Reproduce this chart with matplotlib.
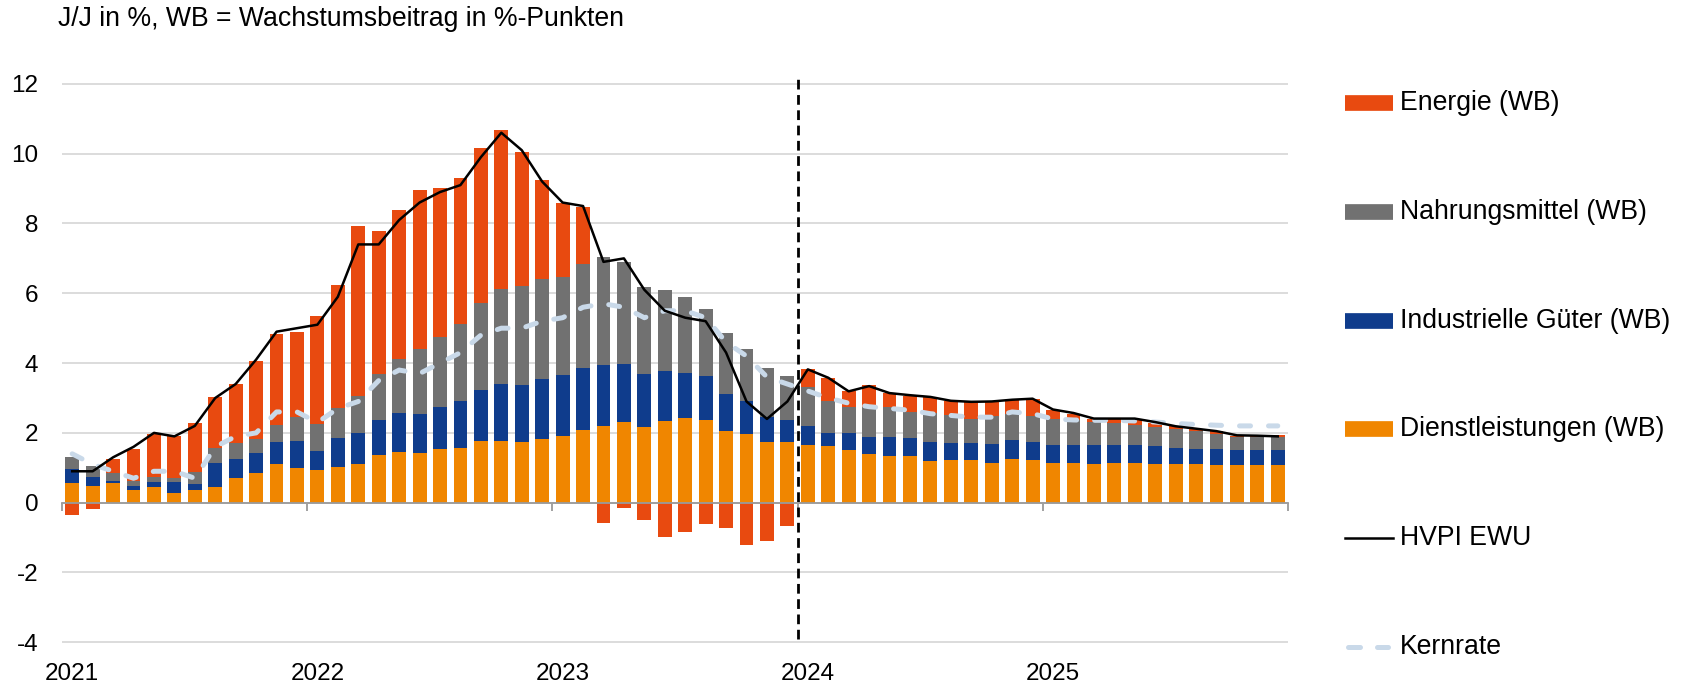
import numpy as np
import matplotlib
matplotlib.use("Agg")
import matplotlib.pyplot as plt
from matplotlib.lines import Line2D

plt.rcParams['font.family'] = ['Liberation Sans', 'DejaVu Sans']
plt.rcParams['axes.unicode_minus'] = False

years = ['2021', '2022', '2023', '2024', '2025']

# Wachstumsbeiträge in %-Punkten, monatlich Jan 2021 - Dez 2025
dienstleistungen = [
    0.57, 0.48, 0.55, 0.35, 0.45, 0.29, 0.37, 0.45, 0.71, 0.86, 1.12, 1.00,
    0.95, 1.03, 1.12, 1.36, 1.46, 1.41, 1.54, 1.57, 1.78, 1.78, 1.75, 1.82,
    1.90, 2.08, 2.21, 2.30, 2.17, 2.34, 2.44, 2.38, 2.05, 1.98, 1.73, 1.73,
    1.66, 1.61, 1.51, 1.40, 1.34, 1.34, 1.20, 1.21, 1.21, 1.15, 1.25, 1.23,
    1.15, 1.13, 1.12, 1.15, 1.13, 1.12, 1.10, 1.10, 1.09, 1.08, 1.08, 1.08,
]
industriegueter = [
    0.39, 0.26, 0.06, 0.13, 0.15, 0.30, 0.16, 0.69, 0.55, 0.55, 0.63, 0.77,
    0.54, 0.81, 0.89, 1.00, 1.11, 1.12, 1.19, 1.35, 1.45, 1.62, 1.61, 1.71,
    1.75, 1.77, 1.73, 1.66, 1.53, 1.43, 1.29, 1.24, 1.05, 0.92, 0.73, 0.65,
    0.53, 0.40, 0.48, 0.48, 0.54, 0.50, 0.55, 0.50, 0.50, 0.52, 0.55, 0.52,
    0.51, 0.53, 0.52, 0.49, 0.51, 0.49, 0.47, 0.43, 0.44, 0.44, 0.44, 0.44,
]
nahrungsmittel = [
    0.35, 0.31, 0.24, 0.13, 0.14, 0.12, 0.35, 0.44, 0.44, 0.41, 0.48, 0.69,
    0.76, 0.88, 1.04, 1.33, 1.55, 1.87, 2.03, 2.21, 2.48, 2.72, 2.84, 2.87,
    2.81, 2.99, 3.09, 2.93, 2.49, 2.33, 2.16, 1.92, 1.77, 1.49, 1.41, 1.24,
    1.13, 0.90, 0.75, 0.86, 0.86, 0.75, 0.82, 0.79, 0.69, 0.82, 0.75, 0.74,
    0.75, 0.72, 0.66, 0.65, 0.58, 0.56, 0.53, 0.52, 0.45, 0.37, 0.35, 0.35,
]
energie = [
    -0.34, -0.19, 0.39, 0.94, 1.24, 1.20, 1.41, 1.44, 1.70, 2.24, 2.61, 2.43,
    3.11, 3.52, 4.88, 4.09, 4.28, 4.57, 4.27, 4.16, 4.44, 4.55, 3.85, 2.84,
    2.12, 1.64, -0.59, -0.14, -0.50, -0.97, -0.83, -0.61, -0.73, -1.21, -1.09, -0.67,
    0.50, 0.67, 0.45, 0.62, 0.39, 0.48, 0.46, 0.42, 0.48, 0.41, 0.40, 0.48,
    0.24, 0.15, 0.09, 0.11, 0.14, 0.10, 0.10, 0.07, 0.07, 0.03, 0.05, 0.08,
]
hvpi = [
    0.9, 0.9, 1.3, 1.6, 2.0, 1.9, 2.2, 3.0, 3.4, 4.1, 4.9, 5.0,
    5.1, 5.9, 7.4, 7.4, 8.1, 8.6, 8.9, 9.1, 9.9, 10.6, 10.1, 9.2,
    8.6, 8.5, 6.9, 7.0, 6.1, 5.5, 5.3, 5.2, 4.3, 2.9, 2.4, 2.9,
    3.82, 3.58, 3.19, 3.34, 3.14, 3.08, 3.03, 2.92, 2.89, 2.90, 2.95, 2.98,
    2.67, 2.57, 2.41, 2.41, 2.41, 2.31, 2.19, 2.12, 2.05, 1.93, 1.92, 1.90,
]
kernrate = [
    1.4, 1.1, 0.9, 0.7, 0.9, 0.9, 0.7, 1.6, 1.9, 2.0, 2.6, 2.6,
    2.3, 2.7, 2.9, 3.5, 3.8, 3.7, 4.0, 4.3, 4.8, 5.0, 5.0, 5.2,
    5.3, 5.6, 5.7, 5.6, 5.3, 5.5, 5.5, 5.3, 4.6, 4.2, 3.6, 3.4,
    3.2, 3.0, 2.85, 2.75, 2.7, 2.65, 2.55, 2.5, 2.45, 2.45, 2.6, 2.55,
    2.4, 2.37, 2.36, 2.36, 2.34, 2.31, 2.27, 2.24, 2.22, 2.2, 2.2, 2.2,
]

c_energie = '#E84A10'
c_nahrung = '#717171'
c_industrie = '#0F3C8C'
c_dienst = '#F08600'
c_kern = '#C9D9E9'

x = np.arange(len(hvpi))
s = np.array(dienstleistungen)
ind = np.array(industriegueter)
nah = np.array(nahrungsmittel)
en = np.array(energie)

W, H = 1684, 688
fig = plt.figure(figsize=(W / 100, H / 100), dpi=100)
ax = fig.add_axes([62 / W, 0.0563, 1226 / W, 0.837])

w = 0.68
ax.bar(x, s, w, color=c_dienst, zorder=2)
ax.bar(x, ind, w, bottom=s, color=c_industrie, zorder=2)
ax.bar(x, nah, w, bottom=s + ind, color=c_nahrung, zorder=2)
en_bottom = np.where(en >= 0, s + ind + nah, 0)
ax.bar(x, en, w, bottom=en_bottom, color=c_energie, zorder=2)

kern_dash = (2.2, 3.6)
ax.plot(x, kernrate, color=c_kern, lw=3.6, dashes=kern_dash, dash_capstyle='round', zorder=3)
ax.plot(x, hvpi, color='black', lw=1.8, zorder=4)

# Beginn der Projektion
ax.vlines(35.5, -3.9, 12.25, colors='black', lw=2, linestyles=(0, (3.5, 2)), zorder=5)

ax.set_xlim(-0.5, 59.5)
ax.set_ylim(-4.2, 12.3)
ax.set_yticks(np.arange(-4, 13, 2))
ax.yaxis.grid(True, color='#D9D9D9', lw=1.3, zorder=0)
ax.tick_params(axis='y', length=0, pad=17, labelsize=17.5)

ax.spines['bottom'].set_position(('data', 0))
ax.spines['bottom'].set_color('#9A9A9A')
ax.spines['bottom'].set_linewidth(1.3)
ax.spines['bottom'].set_zorder(2.5)
for side in ['top', 'right', 'left']:
    ax.spines[side].set_visible(False)
ax.set_xticks(np.arange(-0.5, 60, 12))
ax.tick_params(axis='x', direction='out', length=6, width=1.3, color='#9A9A9A', labelbottom=False)

for i, yr in enumerate(years):
    ax.text(i * 12, -0.043, yr, transform=ax.get_xaxis_transform(),
            ha='center', va='center', fontsize=17.5)

fig.text(58 / W, 1 - 19 / H, 'J/J in %, WB = Wachstumsbeitrag in %-Punkten',
         ha='left', va='center', fontsize=19.2)

# Legende rechts
labels = ['Energie (WB)', 'Nahrungsmittel (WB)', 'Industrielle Güter (WB)',
          'Dienstleistungen (WB)', 'HVPI EWU', 'Kernrate']
styles = [
    dict(color=c_energie, lw=11.3, solid_capstyle='butt'),
    dict(color=c_nahrung, lw=11.3, solid_capstyle='butt'),
    dict(color=c_industrie, lw=11.3, solid_capstyle='butt'),
    dict(color=c_dienst, lw=11.3, solid_capstyle='butt'),
    dict(color='black', lw=1.8),
    dict(color=c_kern, lw=3.6, dashes=(2.4, 3.4), dash_capstyle='round'),
]
for k, (lab, st) in enumerate(zip(labels, styles)):
    yc = 1 - (103 + 108.8 * k) / H
    x0, x1 = 1345 / W, 1393 / W
    if k == 5:
        x0, x1 = 1348 / W, 1388 / W
    fig.add_artist(Line2D([x0, x1], [yc, yc], transform=fig.transFigure, **st))
    fig.text(1400 / W, yc, lab, ha='left', va='center', fontsize=19.2)

fig.savefig('out.png', dpi=100)
